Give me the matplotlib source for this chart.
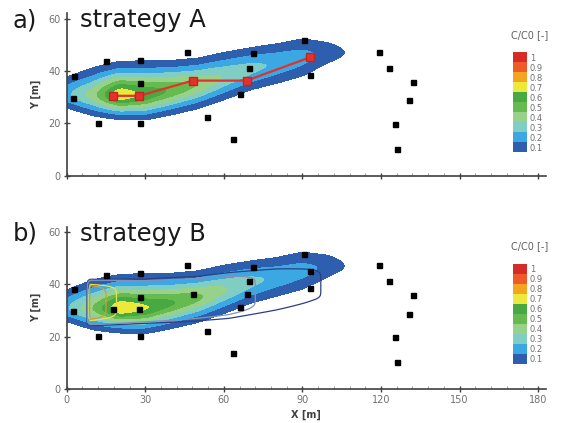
import numpy as np
import matplotlib
matplotlib.use("Agg")
import matplotlib.pyplot as plt

plt.rcParams["font.family"] = ["DejaVu Sans"]

# concentration classes C/C0 and their fill colours
levels = [0.1, 0.2, 0.3, 0.4, 0.5, 0.6, 0.7, 0.8, 0.9, 1.0, 1.1]
level_labels = ["0.1", "0.2", "0.3", "0.4", "0.5", "0.6", "0.7", "0.8", "0.9", "1"]
band_colors = ["#2d5fae", "#3ba8e3", "#80cdc4", "#98d28a", "#66bb50",
               "#48a943", "#ece93c", "#f4a51f", "#ee5a2a", "#d62b27"]

# observation wells [m]
well_x = [2.8, 2.3, 15.0, 11.9, 28.0, 28.0, 28.0, 46.0, 53.7, 63.6, 66.1, 69.7,
          71.2, 90.7, 92.9, 119.3, 122.9, 132.1, 130.5, 125.4, 125.9,
          17.8, 27.7, 48.1, 68.7, 92.9]
well_y = [38.2, 29.8, 43.7, 20.2, 44.2, 35.3, 20.2, 47.2, 22.3, 13.9, 31.3, 41.2,
          46.7, 51.7, 38.5, 47.2, 41.2, 35.8, 28.8, 19.7, 10.2,
          30.5, 30.5, 36.3, 36.3, 45.2]

# sampling path of strategy A
path_x = [17.8, 27.7, 48.1, 68.7, 92.9]
path_y = [30.5, 30.5, 36.3, 36.3, 45.2]

# plume description along the flow axis
station_x = [-10, 0, 10, 20, 30, 40, 50, 60, 70, 80, 90, 100, 104, 108, 115]
centre_y = [30.8, 31.0, 30.8, 30.8, 31.0, 32.8, 34.8, 37.8, 40.8, 42.8, 45.2, 47.0, 47.0, 47.0, 47.0]
spread_up = [6.5, 6.7, 8.3, 8.6, 9.0, 8.2, 7.8, 7.8, 7.3, 7.4, 7.7, 5.7, 4.7, 3.9, 3.0]
spread_lo = [5.1, 5.2, 6.3, 6.3, 6.8, 7.0, 7.1, 7.4, 7.3, 7.4, 7.7, 5.7, 4.7, 3.9, 3.0]
peak_a = [0.20, 0.27, 0.45, 0.78, 0.67, 0.58, 0.49, 0.39, 0.33, 0.28, 0.235, 0.16, 0.125, 0.07, 0.02]
peak_b = [0.21, 0.28, 0.50, 0.79, 0.71, 0.61, 0.52, 0.41, 0.33, 0.27, 0.235, 0.17, 0.125, 0.07, 0.02]
profile_power = 1.8

# design plume of strategy B (outlines)
design_x = [7.5, 9.0, 15.0, 19.0, 27.0, 50.0, 72.0, 97.0, 103.0]
design_peak = [0.0, 0.95, 0.8, 0.7, 0.5, 0.3, 0.2, 0.1, 0.0]
design_cx = [0, 30, 50, 62, 80, 94, 103]
design_centre = [32.8, 33.5, 34.5, 35.7, 38.0, 39.7, 40.0]
design_spread = [8.0, 8.0, 8.4, 8.85, 8.5, 7.6, 7.0]
design_levels = [0.1, 0.2, 0.7, 0.8]
design_colors = ["#2b3f86", "#8291b8", "#e8e24a", "#d49a3c"]

gx = np.arange(-10, 118, 0.25)
gy = np.arange(0, 62.01, 0.2)
GX, GY = np.meshgrid(gx, gy)


def smooth(v, n=12):
    k = np.ones(n) / n
    pad = np.pad(v, n, mode="edge")
    return np.convolve(pad, k, mode="same")[n:-n]


def plume(peak):
    p = smooth(np.interp(gx, station_x, peak))[None, :]
    c = smooth(np.interp(gx, station_x, centre_y))[None, :]
    wu = smooth(np.interp(gx, station_x, spread_up))[None, :]
    wl = smooth(np.interp(gx, station_x, spread_lo))[None, :]
    w = np.where(GY >= c, wu, wl)
    return p * np.exp(-(np.abs(GY - c) / w) ** profile_power)


def design():
    p = np.interp(gx, design_x, design_peak)
    c = np.interp(gx, design_cx, design_centre)
    w = np.interp(gx, design_cx, design_spread)
    return p[None, :] * np.exp(-(np.abs(GY - c[None, :]) / w[None, :]) ** 8)


fig = plt.figure(figsize=(5.62, 4.23), dpi=100)
ax_a = fig.add_axes([0.1187, 0.5846, 0.853, 0.384])
ax_b = fig.add_axes([0.1187, 0.0804, 0.853, 0.384])

spine_c = "#404040"
tick_c = "#707070"

for ax, peak, name, letter, cb_bottom in [
        (ax_a, peak_a, "strategy A", "a)", 1 - 152 / 423),
        (ax_b, peak_b, "strategy B", "b)", 1 - 363.5 / 423)]:
    cf = ax.contourf(GX, GY, plume(peak), levels=levels, colors=band_colors, zorder=1)
    ax.plot(well_x, well_y, "s", color="black", markersize=3.6, zorder=5)
    ax.set_xlim(0, 183)
    ax.set_ylim(0, 62)
    ax.set_xticks([0, 30, 60, 90, 120, 150, 180])
    ax.set_xticks(np.arange(0, 181, 6), minor=True)
    ax.set_yticks([0, 20, 40, 60])
    for s in ["top", "right"]:
        ax.spines[s].set_visible(False)
    for s in ["left", "bottom"]:
        ax.spines[s].set_color(spine_c)
        ax.spines[s].set_linewidth(1.2)
    ax.tick_params(which="major", direction="inout", length=5, width=1,
                   color=spine_c, labelcolor=tick_c, labelsize=7, pad=2)
    ax.tick_params(which="minor", axis="x", direction="in", length=2, width=0.6,
                   color="#909090")
    ax.tick_params(which="minor", axis="y", length=0)
    ax.set_ylabel("Y [m]", fontsize=7, fontweight="bold", color=spine_c, labelpad=5)

    top_px = 13.3 if ax is ax_a else 226.6
    fig.text(13 / 562, 1 - (top_px + 14) / 423, letter, fontsize=17.5,
             va="baseline", color="#1a1a1a")
    fig.text(80 / 562, 1 - (top_px + 14) / 423, name, fontsize=17.5,
             va="baseline", color="#1a1a1a")

    cax = fig.add_axes([513 / 562, cb_bottom, 14 / 562, 100 / 423])
    cb = fig.colorbar(cf, cax=cax)
    mids = [(levels[i] + levels[i + 1]) / 2 for i in range(len(levels) - 1)]
    cb.set_ticks(mids)
    cb.set_ticklabels(level_labels)
    cb.outline.set_visible(False)
    cax.tick_params(length=0, labelsize=6, colors=tick_c, pad=2)
    fig.text(530 / 562, cb_bottom + (100 + 17) / 423, "C/C0 [-]", fontsize=7,
             color="#606060", ha="center", va="center")

ax_a.tick_params(labelbottom=False)
ax_b.set_xlabel("X [m]", fontsize=7, fontweight="bold", color=spine_c, labelpad=3)

# design outlines of strategy B
ax_b.contour(GX, GY, design(), levels=design_levels, colors=design_colors,
             linewidths=0.9, zorder=3)

# sampling path of strategy A
ax_a.plot(path_x, path_y, "-s", color="#e3322b", linewidth=1.6, markersize=5.5,
          markerfacecolor="#e3322b", markeredgecolor="#c22420", zorder=6)

fig.savefig("out.png", dpi=100)
